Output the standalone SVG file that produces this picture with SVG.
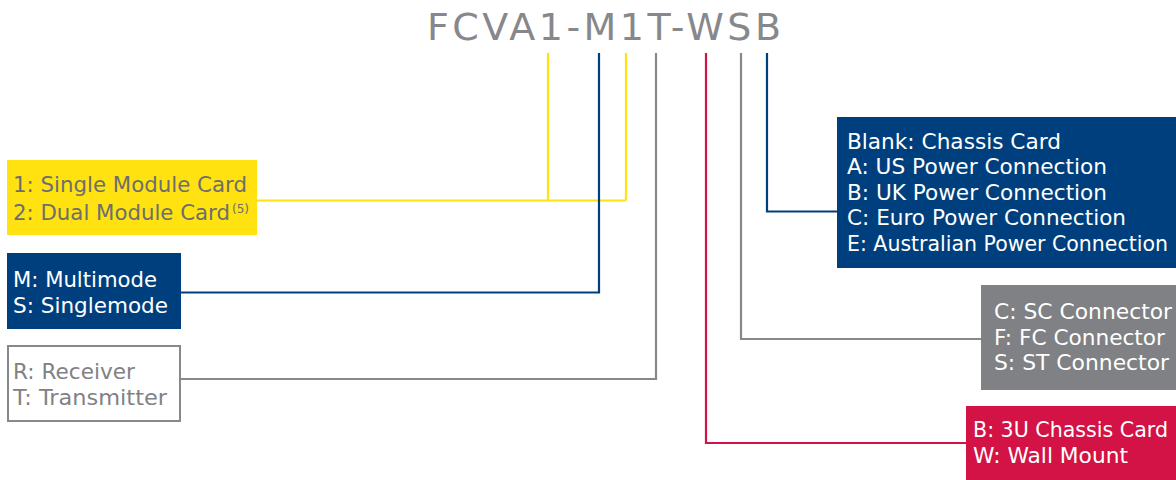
<svg xmlns="http://www.w3.org/2000/svg" width="1176" height="480" viewBox="0 0 1176 480">
<style>
text{font-family:"DejaVu Sans","Liberation Sans",sans-serif;font-size:20.5px}
.w{fill:#ffffff}
.g{fill:#6d6e71}
.lg{fill:#808285}
.ln{fill:none;stroke-width:2.2}
.y{stroke:#ffe20f}
.b{stroke:#003f7d}
.gr{stroke:#87888b}
.r{stroke:#d31245}
</style>
<rect width="1176" height="480" fill="#ffffff"/>
<text id="title" x="427" y="40" style="font-size:38px" fill="#87888b" textLength="354" lengthAdjust="spacing">FCVA1-M1T-WSB</text>
<g id="connectors">
<path class="ln y" d="M548 53V200.5M626 53V200.5M257 200.5H626"/>
<path class="ln b" d="M599 53V292.5H181"/>
<path class="ln gr" d="M656 53V379H181"/>
<path class="ln r" d="M706 53V443H967"/>
<path class="ln gr" d="M741 53V339H981"/>
<path class="ln b" d="M767 53V211.5H837"/>
</g>
<g id="node-modules">
<rect x="7" y="160" width="250" height="75" fill="#ffe20f"/>
<text class="g" x="13" y="192" textLength="234" lengthAdjust="spacingAndGlyphs">1: Single Module Card</text>
<text class="g" x="13" y="220" textLength="217" lengthAdjust="spacingAndGlyphs">2: Dual Module Card</text>
<text class="g" x="232" y="213" style="font-size:12px">(5)</text>
</g>
<g id="node-mode">
<rect x="7" y="253" width="174" height="76" fill="#003f7d"/>
<text class="w" x="13" y="287" textLength="144" lengthAdjust="spacingAndGlyphs">M: Multimode</text>
<text class="w" x="13" y="313" textLength="155" lengthAdjust="spacingAndGlyphs">S: Singlemode</text>
</g>
<g id="node-rt">
<rect x="8" y="346" width="172" height="75" fill="#ffffff" stroke="#87888b" stroke-width="2"/>
<text class="lg" x="13" y="379" textLength="122" lengthAdjust="spacingAndGlyphs">R: Receiver</text>
<text class="lg" x="13" y="405" textLength="154" lengthAdjust="spacingAndGlyphs">T: Transmitter</text>
</g>
<g id="node-power">
<rect x="837" y="117" width="339" height="151" fill="#003f7d"/>
<text class="w" x="847" y="149" textLength="214" lengthAdjust="spacingAndGlyphs">Blank: Chassis Card</text>
<text class="w" x="847" y="174" textLength="260" lengthAdjust="spacingAndGlyphs">A: US Power Connection</text>
<text class="w" x="847" y="200" textLength="260" lengthAdjust="spacingAndGlyphs">B: UK Power Connection</text>
<text class="w" x="847" y="225" textLength="279" lengthAdjust="spacingAndGlyphs">C: Euro Power Connection</text>
<text class="w" x="847" y="251" textLength="321" lengthAdjust="spacingAndGlyphs">E: Australian Power Connection</text>
</g>
<g id="node-connector">
<rect x="981" y="285" width="195" height="105" fill="#808184"/>
<text class="w" x="994" y="319" textLength="178" lengthAdjust="spacingAndGlyphs">C: SC Connector</text>
<text class="w" x="994" y="345" textLength="171" lengthAdjust="spacingAndGlyphs">F: FC Connector</text>
<text class="w" x="994" y="370" textLength="175" lengthAdjust="spacingAndGlyphs">S: ST Connector</text>
</g>
<g id="node-mount">
<rect x="966" y="406" width="210" height="74" fill="#d31245"/>
<text class="w" x="973" y="437" textLength="195" lengthAdjust="spacingAndGlyphs">B: 3U Chassis Card</text>
<text class="w" x="973" y="463" textLength="155" lengthAdjust="spacingAndGlyphs">W: Wall Mount</text>
</g>
</svg>
